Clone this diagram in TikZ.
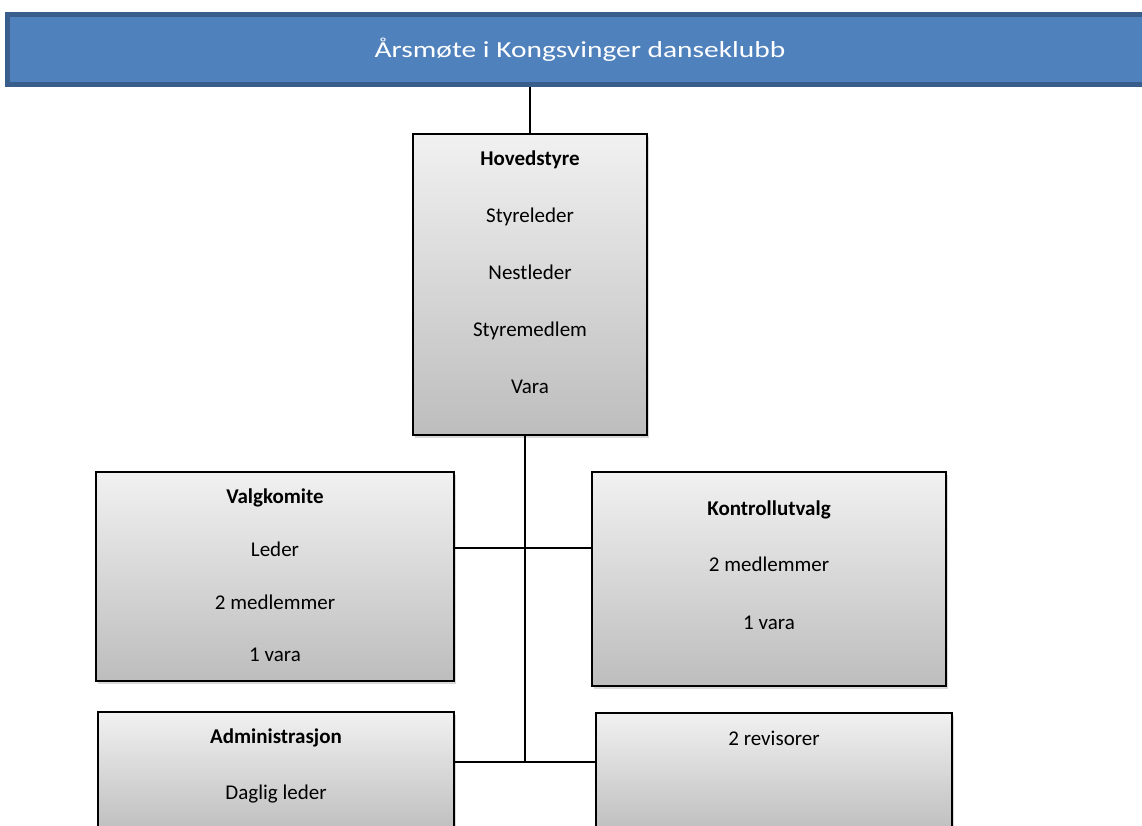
\documentclass[tikz,border=0pt]{standalone}
\usepackage{fontspec}
\setmainfont{Carlito}
\usepackage{graphicx}
\usetikzlibrary{positioning,shadows}
\definecolor{banner}{RGB}{79,129,189}
\definecolor{bannerkant}{RGB}{58,94,140}
\definecolor{boksTopp}{RGB}{241,241,241}
\definecolor{boksBunn}{RGB}{189,189,189}
\tikzset{
    %Define style for the grey boxes
    boks/.style={
        rectangle,
        draw, line width=1.5pt,
        top color=boksTopp, bottom color=boksBunn,
        drop shadow={shadow xshift=2pt, shadow yshift=-3pt, opacity=0.3},
        inner sep=0pt},
    % Define style for the text lines
    linje/.style={
        anchor=base,
        inner sep=0pt,
        font=\fontsize{21}{25}\selectfont},
    overskrift/.style={
        linje,
        font=\fontsize{21}{25}\selectfont\bfseries},
    % Define line style
    strek/.style={
        line width=1.3pt}
}

\begin{document}
\begin{tikzpicture}[x=1pt, y=-1pt]
    \useasboundingbox (0,0) rectangle (1142,826);
    \clip (0,0) rectangle (1142,826);
    %nodes
    \node[draw=bannerkant, line width=5pt, fill=banner, text=white,
          minimum width=1145pt, minimum height=70pt, inner sep=0pt] (aarsmote) at (580,49.5)
          {\scalebox{1.28}[1]{\fontsize{23}{27}\selectfont Årsmøte i Kongsvinger danseklubb}};
    % Hovedstyre
    \node[boks, minimum width=234pt, minimum height=301pt] (hoved) at (530,284.5) {};
    \node[overskrift] (hovedNavn) at ([yshift=-32pt]hoved.north) {Hovedstyre};
    \node[linje] (styreleder) at ([yshift=-89pt]hoved.north) {Styreleder};
    \node[linje] (nestleder) at ([yshift=-146pt]hoved.north) {Nestleder};
    \node[linje] (styremedlem) at ([yshift=-203pt]hoved.north) {Styremedlem};
    \node[linje] (hovedVara) at ([yshift=-260pt]hoved.north) {Vara};
    % Valgkomite
    \node[boks, minimum width=358pt, minimum height=209pt] (valg) at (275,576.5) {};
    \node[overskrift] (valgNavn) at ([yshift=-32pt]valg.north) {Valgkomite};
    \node[linje] (valgLeder) at ([yshift=-85pt]valg.north) {Leder};
    \node[linje] (valgMedlem) at ([yshift=-138pt]valg.north) {2 medlemmer};
    \node[linje] (valgVara) at ([yshift=-190pt]valg.north) {1 vara};
    % Kontrollutvalg
    \node[boks, minimum width=354pt, minimum height=214pt] (kontroll) at (769,579) {};
    \node[overskrift] (kontrollNavn) at ([yshift=-44pt]kontroll.north) {Kontrollutvalg};
    \node[linje] (kontrollMedlem) at ([yshift=-100pt]kontroll.north) {2 medlemmer};
    \node[linje] (kontrollVara) at ([yshift=-158pt]kontroll.north) {1 vara};
    % Administrasjon
    \node[boks, minimum width=356pt, minimum height=123pt] (admin) at (276,773.5) {};
    \node[overskrift] (adminNavn) at ([yshift=-32pt]admin.north) {Administrasjon};
    \node[linje] (dagligLeder) at ([yshift=-88pt]admin.north) {Daglig leder};
    % Revisorer
    \node[boks, minimum width=356pt, minimum height=122pt] (revisor) at (774,774) {};
    \node[linje] (revisorTekst) at ([yshift=-33pt]revisor.north) {2 revisorer};
    % lines
    \coordinate (kryss) at (525,548);
    \coordinate (bunn) at (525,762);
    \draw[strek] (aarsmote.south -| hoved.north) -- (hoved.north);
    \draw[strek] (hoved.south -| bunn) -- (bunn);
    \draw[strek] (kryss -| valg.east) -- (kryss -| kontroll.west);
    \draw[strek] (bunn -| admin.east) -- (bunn -| revisor.west);
\end{tikzpicture}
\end{document}
